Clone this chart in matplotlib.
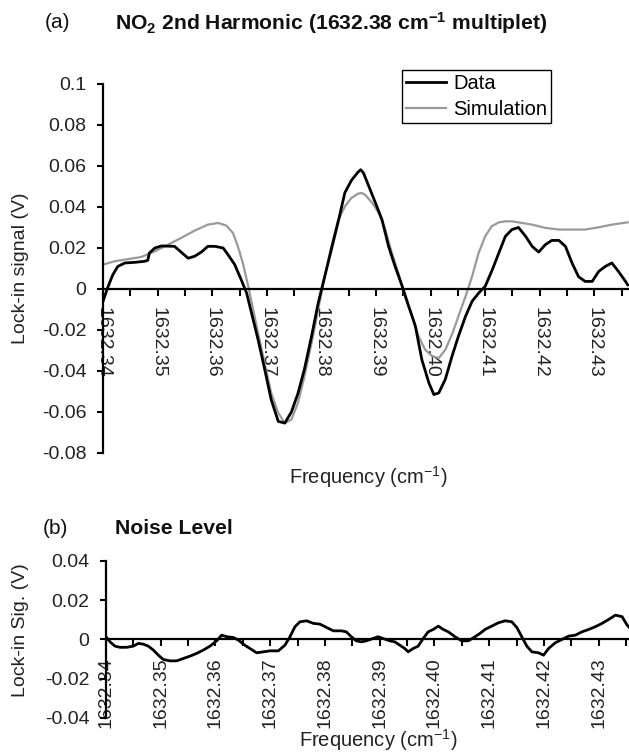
import numpy as np
import matplotlib
matplotlib.use('Agg')
from matplotlib import pyplot as plt
from matplotlib.ticker import FixedLocator, FixedFormatter

plt.rcParams['font.family'] = ['Liberation Sans', 'DejaVu Sans']
plt.rcParams['axes.unicode_minus'] = False
plt.rcParams['mathtext.fontset'] = 'custom'
plt.rcParams['mathtext.rm'] = 'Liberation Sans'
plt.rcParams['mathtext.it'] = 'Liberation Sans:italic'
plt.rcParams['mathtext.bf'] = 'Liberation Sans:bold'

# (a) 2nd harmonic signal, measured
data_freq = [1632.3400, 1632.3409, 1632.3418, 1632.3427, 1632.3440, 1632.3458, 1632.3476, 1632.3482,
             1632.3485, 1632.3495, 1632.3507, 1632.3531, 1632.3543, 1632.3556, 1632.3568, 1632.3580,
             1632.3592, 1632.3605, 1632.3620, 1632.3629, 1632.3641, 1632.3653, 1632.3663, 1632.3672,
             1632.3684, 1632.3696, 1632.3708, 1632.3721, 1632.3733, 1632.3745, 1632.3757, 1632.3769,
             1632.3782, 1632.3794, 1632.3806, 1632.3818, 1632.3830, 1632.3843, 1632.3855, 1632.3867,
             1632.3872, 1632.3877, 1632.3887, 1632.3899, 1632.3911, 1632.3923, 1632.3935, 1632.3948,
             1632.3960, 1632.3972, 1632.3984, 1632.3997, 1632.4006, 1632.4015, 1632.4027, 1632.4039,
             1632.4051, 1632.4064, 1632.4076, 1632.4088, 1632.4100, 1632.4113, 1632.4125, 1632.4137,
             1632.4149, 1632.4161, 1632.4174, 1632.4186, 1632.4198, 1632.4210, 1632.4222, 1632.4235,
             1632.4247, 1632.4259, 1632.4271, 1632.4283, 1632.4296, 1632.4308, 1632.4320, 1632.4332,
             1632.4344, 1632.4357, 1632.4361]
data_sig = [-0.006, 0.001, 0.007, 0.011, 0.0127, 0.013, 0.0135, 0.014,
            0.0176, 0.020, 0.021, 0.0208, 0.018, 0.015, 0.016, 0.018,
            0.0208, 0.0208, 0.020, 0.0167, 0.012, 0.0046, -0.002, -0.0117,
            -0.0247, -0.039, -0.054, -0.0646, -0.0654, -0.060, -0.051, -0.039,
            -0.023, -0.007, 0.006, 0.019, 0.032, 0.047, 0.053, 0.057,
            0.0582, 0.0566, 0.050, 0.042, 0.0338, 0.0208, 0.011, 0.0013,
            -0.0085, -0.018, -0.0345, -0.0459, -0.0515, -0.0507, -0.044, -0.033,
            -0.023, -0.0133, -0.006, -0.002, 0.0013, 0.0094, 0.0176, 0.0257,
            0.029, 0.030, 0.0257, 0.0208, 0.018, 0.0216, 0.0237, 0.0237,
            0.0208, 0.0127, 0.006, 0.0037, 0.0037, 0.0086, 0.011, 0.0127,
            0.0086, 0.0037, 0.002]

# (a) simulation
sim_freq = [1632.3400, 1632.3421, 1632.3446, 1632.3470, 1632.3495, 1632.3519, 1632.3543, 1632.3568,
            1632.3592, 1632.3611, 1632.3626, 1632.3638, 1632.3647, 1632.3656, 1632.3666, 1632.3675,
            1632.3684, 1632.3696, 1632.3708, 1632.3721, 1632.3733, 1632.3745, 1632.3757, 1632.3769,
            1632.3782, 1632.3794, 1632.3806, 1632.3818, 1632.3830, 1632.3843, 1632.3855, 1632.3867,
            1632.3874, 1632.3880, 1632.3893, 1632.3905, 1632.3917, 1632.3929, 1632.3941, 1632.3953,
            1632.3966, 1632.3978, 1632.3990, 1632.4003, 1632.4015, 1632.4027, 1632.4039, 1632.4051,
            1632.4064, 1632.4076, 1632.4088, 1632.4100, 1632.4112, 1632.4125, 1632.4137, 1632.4149,
            1632.4161, 1632.4186, 1632.4210, 1632.4235, 1632.4259, 1632.4283, 1632.4308, 1632.4332,
            1632.4361]
sim_sig = [0.0119, 0.0135, 0.0146, 0.0156, 0.0184, 0.0216, 0.0249, 0.0285,
           0.0314, 0.0322, 0.0309, 0.0273, 0.0208, 0.0127, 0.0013, -0.0101,
           -0.0215, -0.0361, -0.0507, -0.0605, -0.0654, -0.0637, -0.0556, -0.0426,
           -0.0263, -0.0101, 0.0062, 0.0208, 0.033, 0.0403, 0.0444, 0.0465,
           0.0468, 0.046, 0.042, 0.0371, 0.029, 0.0176, 0.0078, -0.0036,
           -0.0133, -0.0231, -0.0296, -0.0328, -0.0337, -0.0296, -0.0223, -0.0133,
           -0.0036, 0.0062, 0.0176, 0.0257, 0.0306, 0.0325, 0.033, 0.033,
           0.0325, 0.0314, 0.0298, 0.029, 0.029, 0.029, 0.0301, 0.0314,
           0.0325]

# (b) noise level
noise_freq = [1632.34000, 1632.34073, 1632.34164, 1632.34256, 1632.34377, 1632.34499, 1632.34591, 1632.34682,
              1632.34773, 1632.34865, 1632.34956, 1632.35047, 1632.35169, 1632.35291, 1632.35412, 1632.35534,
              1632.35656, 1632.35778, 1632.35900, 1632.36021, 1632.36113, 1632.36204, 1632.36326, 1632.36417,
              1632.36508, 1632.36630, 1632.36752, 1632.36874, 1632.36995, 1632.37148, 1632.37269, 1632.37361,
              1632.37452, 1632.37543, 1632.37665, 1632.37787, 1632.37909, 1632.38030, 1632.38152, 1632.38298,
              1632.38389, 1632.38481, 1632.38573, 1632.38664, 1632.38756, 1632.38878, 1632.38969, 1632.39061,
              1632.39183, 1632.39275, 1632.39366, 1632.39458, 1632.39519, 1632.39611, 1632.39702, 1632.39794,
              1632.39885, 1632.39977, 1632.40069, 1632.40160, 1632.40252, 1632.40374, 1632.40496, 1632.40618,
              1632.40740, 1632.40832, 1632.40924, 1632.41046, 1632.41168, 1632.41290, 1632.41412, 1632.41504,
              1632.41595, 1632.41687, 1632.41779, 1632.41901, 1632.41992, 1632.42084, 1632.42206, 1632.42328,
              1632.42450, 1632.42573, 1632.42695, 1632.42817, 1632.42939, 1632.43061, 1632.43183, 1632.43305,
              1632.43427, 1632.43519, 1632.43592]
noise_sig = [0.0014, -0.0012, -0.0034, -0.004, -0.004, -0.0034, -0.002, -0.0024,
             -0.0034, -0.0054, -0.008, -0.0102, -0.0109, -0.0109, -0.0097, -0.0085,
             -0.0071, -0.0054, -0.0034, -0.0007, 0.0022, 0.0014, 0.001, -0.0003,
             -0.0024, -0.0046, -0.0068, -0.0063, -0.0058, -0.0058, -0.0029, 0.0014,
             0.0065, 0.009, 0.0095, 0.0082, 0.0078, 0.0061, 0.0044, 0.0044,
             0.0039, 0.0014, -0.0007, -0.0012, -0.0007, 0.0005, 0.0014, 0.0005,
             -0.0007, -0.0012, -0.0029, -0.0046, -0.0063, -0.0046, -0.0034, 0.0005,
             0.0039, 0.0051, 0.0068, 0.0051, 0.0039, 0.0014, -0.0007, -0.0007,
             0.0014, 0.0031, 0.0051, 0.0068, 0.0085, 0.0095, 0.009, 0.0061,
             0.0014, -0.0034, -0.0063, -0.0068, -0.008, -0.0046, -0.0017, 0.0,
             0.0017, 0.0022, 0.0039, 0.0051, 0.0065, 0.0082, 0.0102, 0.0124,
             0.0116, 0.0073, 0.0051]

freq_labels = ['1632.34', '1632.35', '1632.36', '1632.37', '1632.38',
               '1632.39', '1632.40', '1632.41', '1632.42', '1632.43']
yticks_a = [-0.08, -0.06, -0.04, -0.02, 0, 0.02, 0.04, 0.06, 0.08, 0.1]
ylabels_a = ['-0.08', '-0.06', '-0.04', '-0.02', '0', '0.02', '0.04', '0.06', '0.08', '0.1']
yticks_b = [-0.04, -0.02, 0, 0.02, 0.04]
ylabels_b = ['-0.04', '-0.02', '0', '0.02', '0.04']

major = [float(s) for s in freq_labels]
minor = [m + 0.005 for m in major]

fig = plt.figure(figsize=(6.29, 7.56), dpi=100)


def style_axis(ax, yt, yl, rot):
    for s in ['top', 'right']:
        ax.spines[s].set_visible(False)
    ax.spines['bottom'].set_position(('data', 0))
    ax.spines['bottom'].set_linewidth(1.6)
    ax.spines['left'].set_linewidth(1.6)
    ax.xaxis.set_major_locator(FixedLocator(major))
    ax.xaxis.set_major_formatter(FixedFormatter(freq_labels))
    ax.xaxis.set_minor_locator(FixedLocator(minor))
    ax.set_yticks(yt)
    ax.set_yticklabels(yl)
    ax.tick_params(axis='x', which='both', direction='out', length=5, width=1.5)
    ax.tick_params(axis='x', which='major', labelsize=14, pad=8, labelrotation=rot)
    ax.tick_params(axis='y', direction='out', length=4, width=1.5, labelsize=14, pad=8)
    for lab in ax.get_xticklabels() + ax.get_yticklabels():
        lab.set_color('#222222')


# panel (a)
ax1 = fig.add_axes([0.1638, 0.4008, 0.8362, 0.4881])
ax1.plot(data_freq, data_sig, color='black', lw=2.0, label='Data', zorder=3)
ax1.plot(sim_freq, sim_sig, color='#999999', lw=1.6, label='Simulation', zorder=2)
ax1.set_xlim(1632.34, 1632.43634)
ax1.set_ylim(-0.08, 0.1)
style_axis(ax1, yticks_a, ylabels_a, -90)

leg = ax1.legend(loc='upper left', bbox_to_anchor=(0.639, 0.9074), bbox_transform=fig.transFigure,
                 fontsize=14.5, frameon=True, fancybox=False, framealpha=1, edgecolor='black',
                 borderpad=0.2, handlelength=2.0, handletextpad=0.35, labelspacing=0.35,
                 borderaxespad=0)
leg.get_frame().set_linewidth(1.0)

fig.text(0.071, 0.9696, '(a)', fontsize=15, va='center', ha='left', color='#111111')
fig.text(0.183, 0.9696, r'NO$_\mathbf{2}$ 2nd Harmonic (1632.38 cm$^\mathbf{-1}$ multiplet)',
         fontsize=15.2, fontweight='bold', va='center', ha='left', color='#111111')
fig.text(0.585, 1 - 477 / 756, r'Frequency (cm$^{-1}$)', fontsize=14.5, ha='center', va='center',
         color='#222222')
fig.text(0.033, 1 - 268 / 756, 'Lock-in signal (V)', fontsize=14, rotation=90,
         ha='center', va='center', color='#222222')

# panel (b)
ax2 = fig.add_axes([0.1685, 0.0503, 0.8315, 0.2077])
ax2.plot(noise_freq, noise_sig, color='black', lw=2.0)
ax2.set_xlim(1632.34, 1632.43553)
ax2.set_ylim(-0.04, 0.04)
style_axis(ax2, yticks_b, ylabels_b, 90)

fig.text(0.068, 1 - 528 / 756, '(b)', fontsize=15, va='center', ha='left', color='#111111')
fig.text(0.183, 1 - 528 / 756, 'Noise Level', fontsize=15.2, fontweight='bold',
         va='center', ha='left', color='#111111')
fig.text(0.602, 1 - 740 / 756, r'Frequency (cm$^{-1}$)', fontsize=14.5, ha='center', va='center',
         color='#222222')
fig.text(0.033, 1 - 630 / 756, 'Lock-in Sig. (V)', fontsize=14, rotation=90,
         ha='center', va='center', color='#222222')

fig.savefig('out.png', dpi=100)
